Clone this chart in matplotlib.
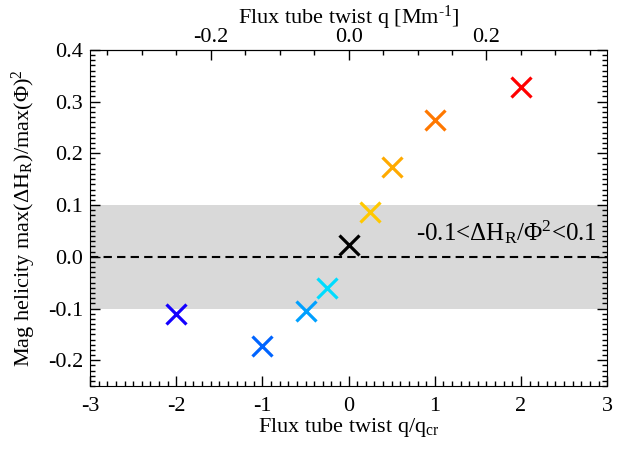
import matplotlib
matplotlib.use("Agg")
import matplotlib.pyplot as plt
from matplotlib.ticker import MultipleLocator, FormatStrFormatter

plt.rcParams["font.family"] = ["Liberation Serif", "DejaVu Serif"]
plt.rcParams["mathtext.fontset"] = "custom"
plt.rcParams["mathtext.rm"] = "Liberation Serif"
plt.rcParams["mathtext.it"] = "Liberation Serif:italic"
plt.rcParams["mathtext.bf"] = "Liberation Serif:bold"
plt.rcParams["axes.unicode_minus"] = False

# twist q/q_cr and helicity values
twist = [-2.0, -1.0, -0.5, -0.25, 0.0, 0.25, 0.5, 1.0, 2.0]
helicity = [-0.111, -0.172, -0.104, -0.061, 0.023, 0.087, 0.174, 0.264, 0.328]
colors = ["#1400ff", "#0064ff", "#00a0ff", "#00dcff", "#000000",
          "#ffc800", "#ffaa00", "#ff7800", "#ff0000"]

Q_CR = 0.125  # Mm^-1
FS = 16

fig = plt.figure(figsize=(6.17, 4.49), dpi=100)
ax = fig.add_axes([0.146, 0.140, 0.838, 0.749])

ax.axhspan(-0.1, 0.1, color="#d9d9d9", lw=0, zorder=0)
ax.axhline(0.0, color="black", ls=(0, (4, 2.5)), lw=1.5, zorder=1)

for x, y, c in zip(twist, helicity, colors):
    ax.plot(x, y, marker="x", ms=14, mew=2.3, color=c, ls="none", zorder=3)

ax.set_xlim(-3, 3)
ax.set_ylim(-0.25, 0.4)
ax.xaxis.set_major_locator(MultipleLocator(1))
ax.xaxis.set_minor_locator(MultipleLocator(0.1))
ax.yaxis.set_major_locator(MultipleLocator(0.1))
ax.yaxis.set_minor_locator(MultipleLocator(0.01))
ax.yaxis.set_major_formatter(FormatStrFormatter("%.1f"))
ax.tick_params(which="both", direction="in", labelsize=FS, top=False, right=True)
ax.tick_params(which="major", length=7, width=1)
ax.tick_params(which="minor", length=3.5, width=1)
ax.tick_params(axis="x", pad=8)
ax.tick_params(axis="y", pad=5)

ax.set_xlabel(r"Flux tube twist q/q$_{\mathrm{cr}}$", fontsize=FS, labelpad=0)
ax.set_ylabel(r"Mag helicity max($\Delta$H$_\mathrm{R}$)/max($\Phi$)$^2$", fontsize=FS, labelpad=7)

top = ax.secondary_xaxis("top", functions=(lambda x: x * Q_CR, lambda q: q / Q_CR))
top.xaxis.set_major_locator(MultipleLocator(0.2))
top.xaxis.set_minor_locator(MultipleLocator(0.05))
top.xaxis.set_major_formatter(FormatStrFormatter("%.1f"))
top.tick_params(which="both", direction="in", labelsize=FS, pad=2)
top.tick_params(which="major", length=7, width=1)
top.tick_params(which="minor", length=3.5, width=1)
top.set_xlabel(r"Flux tube twist q [Mm$^{\text{-}1}$]", fontsize=FS, labelpad=3)

ax.text(2.88, 0.048, r"-0.1<$\Delta$H$_\mathrm{R}$/$\Phi^2$<0.1", fontsize=18,
        ha="right", va="center", zorder=4)

fig.savefig("out.png", dpi=100)
